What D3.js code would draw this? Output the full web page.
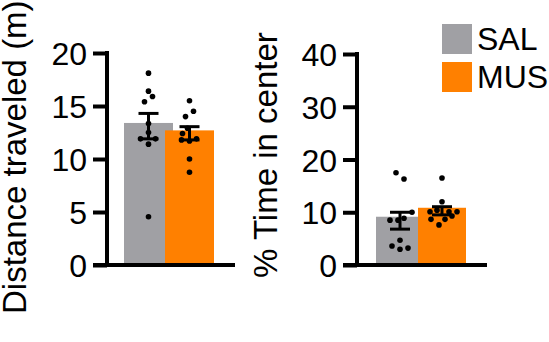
<!DOCTYPE html>
<html>
<head>
<meta charset="utf-8">
<script src="https://cdn.jsdelivr.net/npm/d3@7"></script>
<style>
  body { margin: 0; background: #fff; }
  text { font-family: Arial, "Liberation Sans", Helvetica, sans-serif; fill: #000; }
</style>
</head>
<body>
<div id="chart"></div>
<script>
const groups = ["SAL", "MUS"];
const colors = ["#a0a0a4", "#ff8000"];

// panel 1: distance traveled
const distTicks = [0, 5, 10, 15, 20];
const distBars = [13.4, 12.7];
const distErrLow = [11.9, 11.8];
const distErrHigh = [14.3, 13.05];
// [value, jitter in px]
const distSal = [[18.1, 0], [16.4, 0], [15.9, 4], [15.4, -4], [13.35, 0], [12.5, 0], [11.9, -8], [11.9, 7], [11.4, 0], [4.55, 0]];
const distMus = [[15.5, 0], [14.5, 4], [14.0, -4], [12.9, -2], [12.4, -7], [11.9, 7], [11.8, -8], [11.7, 0], [10.0, 0], [8.75, 0]];

// panel 2: % time in center
const centerTicks = [0, 10, 20, 30, 40];
const centerBars = [9.15, 10.85];
const centerErrLow = [6.8, 9.5];
const centerErrHigh = [10.0, 11.05];
const centerSal = [[17.5, -4], [16.3, 4], [10.0, 12], [8.85, 4], [8.5, -10], [8.5, -2], [4.7, 0], [3.6, -8], [3.2, 8], [3.0, 0]];
const centerMus = [[16.5, 0], [12.0, 0], [10.4, -5], [10.1, -12], [10.1, 7], [10.1, 15], [9.3, 10], [8.65, -11], [8.65, 3], [7.6, -3]];

const svg = d3.select("#chart").append("svg")
  .attr("width", 549)
  .attr("height", 342);

function drawPanel(opt) {
  const g = svg.append("g");
  const y = d3.scaleLinear().domain(opt.domain).range([265, opt.top]);
  const x = d3.scalePoint().domain(groups).range(opt.centers);

  /* bars, gray first so orange overlaps it */
  g.selectAll(".bar")
    .data(groups)
    .join("rect")
    .attr("class", "bar")
    .attr("x", d => x(d) - opt.barW / 2)
    .attr("width", opt.barW)
    .attr("y", (d, i) => y(opt.bars[i]))
    .attr("height", (d, i) => y(0) - y(opt.bars[i]))
    .style("fill", (d, i) => colors[i]);

  /* error bars */
  groups.forEach((grp, i) => {
    const cx = x(grp);
    g.append("line")
      .attr("x1", cx).attr("x2", cx)
      .attr("y1", y(opt.errLow[i])).attr("y2", y(opt.errHigh[i]))
      .style("stroke", "#000").style("stroke-width", 3);
    [opt.errLow[i], opt.errHigh[i]].forEach(v => {
      g.append("line")
        .attr("x1", cx - 10).attr("x2", cx + 10)
        .attr("y1", y(v)).attr("y2", y(v))
        .style("stroke", "#000").style("stroke-width", 3);
    });
  });

  /* individual points */
  [opt.sal, opt.mus].forEach((pts, i) => {
    g.selectAll(".dot" + i)
      .data(pts)
      .join("circle")
      .attr("class", "dot" + i)
      .attr("cx", d => x(groups[i]) + d[1])
      .attr("cy", d => y(d[0]))
      .attr("r", 2.8)
      .style("fill", "#000");
  });

  /* y axis */
  const axis = g.append("g")
    .attr("transform", `translate(${opt.axisX},0)`)
    .call(d3.axisLeft(y).tickValues(opt.ticks).tickSize(14).tickSizeOuter(0).tickPadding(6));
  axis.select(".domain").style("stroke-width", 4).attr("d", `M0,${y(opt.domain[1]) - 2}V${y(0)}`);
  axis.selectAll(".tick line").style("stroke-width", 4);
  axis.selectAll(".tick text")
    .style("font-size", "32px")
    .style("font-family", "Arial, 'Liberation Sans', sans-serif")
    .attr("dy", "0.36em");

  /* x baseline */
  g.append("line")
    .attr("x1", opt.axisX - 14).attr("x2", opt.baseEnd)
    .attr("y1", y(0)).attr("y2", y(0))
    .style("stroke", "#000").style("stroke-width", 4);

  /* y label */
  g.append("text")
    .attr("transform", `translate(${opt.labelX},${opt.labelY}) rotate(-90)`)
    .style("font-size", "33px")
    .text(opt.label);
}

drawPanel({
  domain: [0, 20], top: 53, ticks: distTicks,
  centers: [148.5, 189.5], barW: 49, axisX: 107, baseEnd: 235,
  bars: distBars, errLow: distErrLow, errHigh: distErrHigh,
  sal: distSal, mus: distMus,
  label: "Distance traveled (m)", labelX: 26, labelY: 314
});

drawPanel({
  domain: [0, 40], top: 54, ticks: centerTicks,
  centers: [400, 442], barW: 48, axisX: 357, baseEnd: 487,
  bars: centerBars, errLow: centerErrLow, errHigh: centerErrHigh,
  sal: centerSal, mus: centerMus,
  label: "% Time in center", labelX: 277, labelY: 278
});

/* legend */
const legend = svg.append("g");
groups.forEach((grp, i) => {
  legend.append("rect")
    .attr("x", 442).attr("y", 24 + i * 38)
    .attr("width", 30).attr("height", 30)
    .style("fill", colors[i]);
  legend.append("text")
    .attr("x", 477).attr("y", 50 + i * 38)
    .style("font-size", "32px")
    .text(grp);
});
</script>
</body>
</html>
